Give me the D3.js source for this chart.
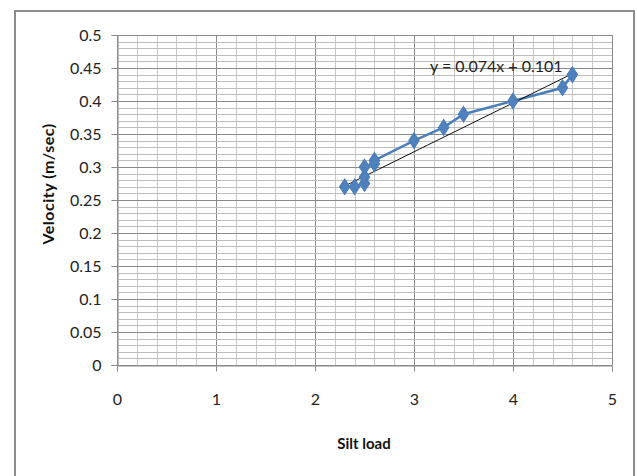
<!DOCTYPE html>
<html><head><meta charset="utf-8">
<script src="https://cdn.jsdelivr.net/npm/d3@7"></script>
<style>body{margin:0;background:#fff}svg{display:block}</style>
</head><body>
<svg id="c" width="637" height="476"></svg>
<script>
const siltLoad = [2.3, 2.4, 2.5, 2.5, 2.5, 2.6, 2.6, 3.0, 3.3, 3.5, 4.0, 4.5, 4.6];
const velocity = [0.27, 0.27, 0.275, 0.285, 0.30, 0.305, 0.31, 0.34, 0.36, 0.38, 0.40, 0.42, 0.44];
const trendSlope = 0.074, trendIntercept = 0.101;
const xTicks = [0, 1, 2, 3, 4, 5];
const yTicks = [0, 0.05, 0.1, 0.15, 0.2, 0.25, 0.3, 0.35, 0.4, 0.45, 0.5];
const xTitle = "Silt load", yTitle = "Velocity (m/sec)";
const eqLabel = "y = 0.074x + 0.101";

const svg = d3.select("#c");
const L = 117, R = 612, T = 35, B = 365;
const x = d3.scaleLinear().domain([0, 5]).range([L, R]);
const y = d3.scaleLinear().domain([0, 0.5]).range([B, T]);
const font = "Lato, 'Open Sans', sans-serif";

// outer border
svg.append("rect").attr("x", 15).attr("y", 11).attr("width", 619).attr("height", 480)
  .attr("fill", "none").attr("stroke", "#8c8c8c").attr("stroke-width", 2);

// grid
const g = svg.append("g");
d3.range(0, 5.001, 0.2).forEach(v => {
  const major = Math.abs(v - Math.round(v)) < 1e-6;
  g.append("line").attr("x1", Math.round(x(v)) + 0.5).attr("x2", Math.round(x(v)) + 0.5)
    .attr("y1", T).attr("y2", B).attr("stroke", major ? "#8a8a8a" : "#c8c8c8").attr("stroke-width", 1);
});
d3.range(0, 0.5001, 0.01).forEach(v => {
  const major = Math.abs(v * 20 - Math.round(v * 20)) < 1e-6;
  g.append("line").attr("x1", L).attr("x2", R)
    .attr("y1", Math.round(y(v)) + 0.5).attr("y2", Math.round(y(v)) + 0.5)
    .attr("stroke", major ? "#8a8a8a" : "#bdbdbd").attr("stroke-width", 1);
});

// axes
const xa = svg.append("g").attr("transform", `translate(0,${B + 0.5})`)
  .call(d3.axisBottom(x).tickValues(xTicks).tickFormat(d3.format("d")).tickSize(6).tickPadding(22));
const ya = svg.append("g").attr("transform", `translate(${L + 0.5},0)`)
  .call(d3.axisLeft(y).tickValues(yTicks).tickFormat(d => String(+d.toFixed(2))).tickSize(6).tickPadding(10));
[xa, ya].forEach(a => {
  a.selectAll("path").attr("stroke", "#8a8a8a");
  a.selectAll("line").attr("stroke", "#8a8a8a");
  a.selectAll("text").attr("font-family", font).attr("font-size", 16).attr("fill", "#222");
});

// series line
const line = d3.line().x((d, i) => x(siltLoad[i])).y(d => y(d));
svg.append("path").datum(velocity).attr("d", line).attr("fill", "none")
  .attr("stroke", "#4a7ebb").attr("stroke-width", 2.5);

// trend line
const tx = d3.extent(siltLoad);
svg.append("line").attr("x1", x(tx[0])).attr("y1", y(trendSlope * tx[0] + trendIntercept))
  .attr("x2", x(tx[1])).attr("y2", y(trendSlope * tx[1] + trendIntercept))
  .attr("stroke", "#111").attr("stroke-width", 1);

// markers
const diamond = d3.symbol().type(d3.symbolDiamond).size(70);
svg.append("g").selectAll("path").data(velocity).join("path")
  .attr("transform", (d, i) => `translate(${x(siltLoad[i])},${y(d)}) scale(1.15,1)`)
  .attr("d", diamond).attr("fill", "#4f81bd").attr("stroke", "#4a7ebb").attr("stroke-width", 1);

// equation
svg.append("text").attr("x", 430).attr("y", 72).text(eqLabel)
  .attr("font-family", font).attr("font-size", 16).attr("fill", "#222");

// titles
svg.append("text").attr("x", 364).attr("y", 449).attr("text-anchor", "middle").text(xTitle)
  .attr("font-family", font).attr("font-size", 15).attr("font-weight", "bold").attr("fill", "#111");
svg.append("text").attr("transform", "translate(54,184) rotate(-90)").attr("text-anchor", "middle").text(yTitle)
  .attr("font-family", font).attr("font-size", 16).attr("font-weight", "bold").attr("fill", "#111")
  .attr("letter-spacing", 0.5);
</script>
</body></html>
